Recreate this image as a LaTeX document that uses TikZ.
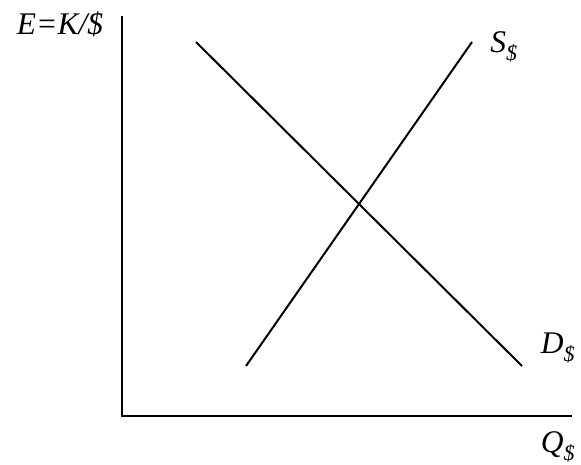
\documentclass[tikz,border=0pt]{standalone}
\usepackage{fontspec}
\setmainfont{Liberation Serif}
\usetikzlibrary{positioning}

\begin{document}
\begin{tikzpicture}[
      x=1pt, y=-1pt,
      axisline/.style={line width=2.2pt, line cap=rect},
      curveline/.style={line width=2pt},
      axislabel/.style={inner sep=0pt, font=\fontsize{31.5}{36}\selectfont\itshape}
    ]
      \useasboundingbox (0,0) rectangle (581,464);
      % axes
      \coordinate (top) at (122,17);
      \coordinate (origin) at (122,416);
      \coordinate (right) at (571,416);
      \draw[axisline] (top) -- (origin) -- (right);
      % demand and supply
      \coordinate (dstart) at (196,42);
      \coordinate (dend) at (522,366);
      \coordinate (sstart) at (246,366);
      \coordinate (send) at (472,42);
      \draw[curveline] (dstart) -- (dend);
      \draw[curveline] (sstart) -- (send);
      % labels
      \node[axislabel] (elabel) at (60,24) {E=K/\$};
      \node[axislabel] (slabel) at (504,47) {S\textsubscript{\$}};
      \node[axislabel] (dlabel) at (558,348) {D\textsubscript{\$}};
      \node[axislabel] (qlabel) at (558,447) {Q\textsubscript{\$}};
    \end{tikzpicture}
\end{document}
